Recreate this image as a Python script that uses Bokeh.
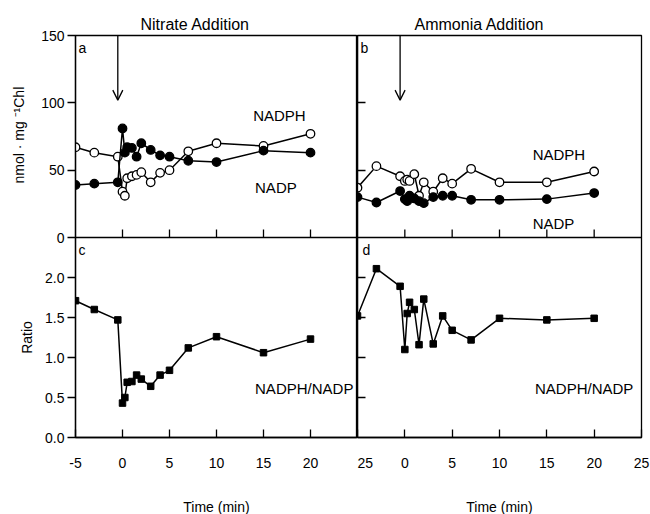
import math
from bokeh.plotting import figure
from bokeh.layouts import gridplot
from bokeh.models import Range1d, FixedTicker, Label, Arrow, OpenHead, Span
from bokeh.embed import file_html
from bokeh.resources import INLINE
from bokeh.core.properties import value

# ---------------- data ----------------
time_min = [-5, -3, -0.5, 0, 0.25, 0.5, 1, 1.5, 2, 3, 4, 5, 7, 10, 15, 20]

nadph_nitrate = [67, 63, 60, 34, 31, 44, 45.5, 46.5, 48.5, 41, 48, 50, 64, 70, 68, 77]
nadp_nitrate = [39, 40, 41, 81, 63, 67, 66.5, 60, 70, 65, 61, 60, 57, 56, 64.5, 63]
ratio_nitrate = [1.71, 1.60, 1.47, 0.43, 0.50, 0.69, 0.70, 0.78, 0.73, 0.64, 0.78, 0.84,
                 1.12, 1.26, 1.06, 1.23]

nadph_ammonia = [37, 53, 45.5, 42, 43, 42, 47, 31, 41, 34, 44, 40, 51, 41, 41, 49]
nadp_ammonia = [30, 26, 34.5, 28.5, 27, 31, 29, 27, 25.5, 30, 31, 31, 28, 28, 28.5, 33]
ratio_ammonia = [1.52, 2.11, 1.89, 1.10, 1.55, 1.69, 1.60, 1.16, 1.73, 1.17, 1.52, 1.34,
                 1.22, 1.49, 1.47, 1.49]

time_ticks = [-5, 0, 5, 10, 15, 20, 25]
inner_time_ticks = [0, 5, 10, 15, 20]
conc_ticks = [0, 50, 100, 150]
conc_labels = ["0", "50", "100", "150"]
ratio_ticks = [0.0, 0.5, 1.0, 1.5, 2.0]
ratio_labels = ["0.0", "0.5", "1.0", "1.5", "2.0"]
addition_time = -0.5

# ---------------- geometry / style ----------------
FONT = "Liberation Sans"
LW = 1.3
TICK_FS = "14px"
TOP_H, BOT_H = 202, 200          # pixel heights of upper / lower panel
RATIO_MAX, CONC_MAX = 2.5, 150.0
RATIO_END = RATIO_MAX * (TOP_H + BOT_H) / BOT_H
CONC_START = -CONC_MAX * BOT_H / TOP_H
PX_RATIO = RATIO_MAX / BOT_H      # ratio units per pixel
LABEL_COL_W = 38                  # width of the strip holding the y titles


def conc_to_ratio_axis(v):
    return RATIO_MAX + v * (RATIO_END - RATIO_MAX) / CONC_MAX


def base(fw, left, right):
    p = figure(frame_width=fw, frame_height=TOP_H + BOT_H,
               x_range=Range1d(-5, 25), y_range=Range1d(0, RATIO_END),
               output_backend="svg", toolbar_location=None,
               min_border_left=left, min_border_right=right,
               min_border_top=35, min_border_bottom=77)
    p.extra_y_ranges = {"conc": Range1d(CONC_START, CONC_MAX)}
    p.grid.visible = False
    p.outline_line_color = "black"
    p.outline_line_width = LW
    p.background_fill_color = "white"
    p.border_fill_color = "white"
    # divider between upper and lower panel, with its inward ticks
    p.add_layout(Span(location=RATIO_MAX, dimension="width",
                      line_color="black", line_width=LW))
    p.segment(x0=inner_time_ticks, y0=[RATIO_MAX] * len(inner_time_ticks),
              x1=inner_time_ticks, y1=[RATIO_MAX + 8 * PX_RATIO] * len(inner_time_ticks),
              line_color="black", line_width=LW)
    return p


def style(ax, ticks, labels, tick_in=0, tick_out=0, standoff=4):
    ax.ticker = FixedTicker(ticks=ticks, minor_ticks=[])
    ax.axis_line_color = "black"
    ax.axis_line_width = LW
    ax.major_tick_line_color = "black"
    ax.major_tick_line_width = LW
    ax.major_tick_in = tick_in
    ax.major_tick_out = tick_out
    ax.minor_tick_in = 0
    ax.minor_tick_out = 0
    ax.minor_tick_line_color = None
    ax.major_label_text_font = FONT
    ax.major_label_text_font_size = TICK_FS
    ax.major_label_text_color = "black"
    ax.major_label_standoff = standoff
    if labels is None:
        ax.major_label_overrides = {t: "" for t in ticks}
        ax.major_label_text_font_size = "0px"
        ax.major_label_standoff = 0
    else:
        ax.major_label_overrides = {t: s for t, s in zip(ticks, labels)}
    ax.axis_label_text_font = FONT
    ax.axis_label_text_font_style = "normal"
    ax.axis_label_text_font_size = "14px"
    ax.axis_label_text_color = "black"


def set_title(p, text, offset):
    p.title.text = text
    p.title.align = "left"
    p.title.offset = offset
    p.title.text_font = FONT
    p.title.text_font_size = "16px"
    p.title.text_font_style = "normal"
    p.title.text_color = "black"
    p.title.standoff = 6


def label(p, x, y, text, size="15px", baseline="alphabetic", xo=0, yo=0, rng="default"):
    p.add_layout(Label(x=x, y=y, text=text, x_offset=xo, y_offset=yo,
                       y_range_name=rng,
                       text_font=FONT, text_font_size=size, text_color="black",
                       text_baseline=baseline, text_align="left"))


def conc_series(p, x, y, filled):
    p.line(x, y, line_color="black", line_width=1.5, y_range_name="conc")
    p.scatter(x, y, marker="circle", size=8.5, line_color="black", line_width=1.3,
              fill_color="black" if filled else "white", y_range_name="conc")


def ratio_series(p, x, y):
    p.line(x, y, line_color="black", line_width=1.5)
    p.scatter(x, y, marker="square", size=6.5, line_color="black", fill_color="black")


def arrow(p):
    p.add_layout(Arrow(end=OpenHead(size=10, line_width=LW, line_color="black"),
                       x_start=addition_time, y_start=CONC_MAX,
                       x_end=addition_time, y_end=102, y_range_name="conc",
                       line_width=LW, line_color="black"))


# ---------------- strip with the two y-axis titles ----------------
titles = figure(frame_width=LABEL_COL_W, frame_height=TOP_H + BOT_H,
                x_range=Range1d(0, LABEL_COL_W), y_range=Range1d(0, RATIO_END),
                x_axis_type=None, y_axis_type=None,
                output_backend="svg", toolbar_location=None,
                min_border_left=0, min_border_right=0,
                min_border_top=35, min_border_bottom=77)
titles.extra_y_ranges = {"conc": Range1d(CONC_START, CONC_MAX)}
titles.grid.visible = False
titles.outline_line_color = None
titles.background_fill_color = "white"
titles.border_fill_color = "white"
titles.text(x=[18], y=[76], text=["nmol · mg ⁻¹Chl"], angle=math.pi / 2,
            y_range_name="conc", text_align="center", text_baseline="middle",
            text_font=value(FONT), text_font_size="14px", text_color="black")
titles.text(x=[26], y=[1.25], text=["Ratio"], angle=math.pi / 2,
            text_align="center", text_baseline="middle",
            text_font=value(FONT), text_font_size="14px", text_color="black")

# ---------------- left column: nitrate (panels a, c) ----------------
left = base(282, 75 - LABEL_COL_W, 0)
set_title(left, "Nitrate Addition", 65)
left_ticks = ratio_ticks + [conc_to_ratio_axis(v) for v in conc_ticks]
style(left.yaxis[0], left_ticks, ratio_labels + conc_labels, tick_out=8, standoff=3)
style(left.xaxis[0], time_ticks[:-1], [str(t) for t in time_ticks[:-1]],
      tick_in=8, standoff=20)
left.xaxis[0].axis_label = "Time (min)"
left.xaxis[0].axis_label_standoff = 28

conc_series(left, time_min, nadph_nitrate, filled=False)
conc_series(left, time_min, nadp_nitrate, filled=True)
ratio_series(left, time_min, ratio_nitrate)
arrow(left)

label(left, -5, CONC_MAX, "a", size="14px", baseline="top", xo=3, yo=-4, rng="conc")
label(left, -5, RATIO_MAX, "c", size="14px", baseline="top", xo=3, yo=-4)
label(left, 13.9, 90.6, "NADPH", rng="conc")
label(left, 14.1, 37, "NADP", rng="conc")
label(left, 14.1, 0.61, "NADPH/NADP")

# ---------------- right column: ammonia (panels b, d) ----------------
right = base(284, 0, 9)
set_title(right, "Ammonia Addition", 57)
right_ticks = ratio_ticks[1:] + [conc_to_ratio_axis(v) for v in conc_ticks[1:3]]
style(right.yaxis[0], right_ticks, None, tick_in=8)
style(right.xaxis[0], time_ticks, ["25"] + [str(t) for t in time_ticks[1:]],
      tick_in=8, standoff=20)
right.xaxis[0].axis_label = "Time (min)"
right.xaxis[0].axis_label_standoff = 28

conc_series(right, time_min, nadph_ammonia, filled=False)
conc_series(right, time_min, nadp_ammonia, filled=True)
ratio_series(right, time_min, ratio_ammonia)
arrow(right)

label(right, -5, CONC_MAX, "b", size="14px", baseline="top", xo=3, yo=-4, rng="conc")
label(right, -5, RATIO_MAX, "d", size="14px", baseline="top", xo=5, yo=-4)
label(right, 13.5, 62, "NADPH", rng="conc")
label(right, 13.5, 10.4, "NADP", rng="conc")
label(right, 13.75, 0.61, "NADPH/NADP")

grid = gridplot([[titles, left, right]], toolbar_location=None)

with open("out.html", "w") as f:
    f.write(file_html(grid, INLINE))
